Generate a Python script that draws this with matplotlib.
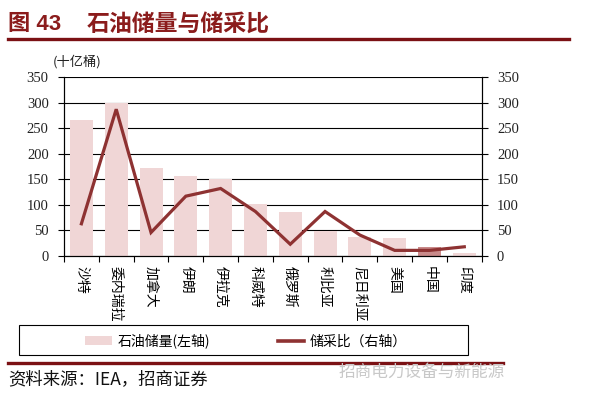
"""Oil reserves and reserve/production ratio by country (Figure 43)."""

import matplotlib.pyplot as plt
from matplotlib.lines import Line2D
from matplotlib.patches import Patch, Rectangle

CJK = ['Noto Sans CJK SC', 'DejaVu Sans']
SERIF = ['Liberation Serif', 'DejaVu Serif']

countries = ['沙特', '委内瑞拉', '加拿大', '伊朗', '伊拉克', '科威特',
             '俄罗斯', '利比亚', '尼日利亚', '美国', '中国', '印度']
reserves = [266, 300, 173, 157, 151, 102, 87, 48, 37, 35, 18, 5]   # 十亿桶
rp_ratio = [63, 287, 46, 117, 132, 87, 23, 87, 41, 11, 11, 18]     # 年
y_ticks = [0, 50, 100, 150, 200, 250, 300, 350]

bar_color = '#F0D6D6'
line_color = '#8E3232'
title_color = '#8B1C1C'
rule_color = '#7B1114'

plt.rcParams['font.family'] = CJK

fig = plt.figure(figsize=(5.91, 3.98), dpi=100)
W, H = 591, 398


def fx(px):
    return px / W


def fy(py):
    return 1 - py / H


ax = fig.add_axes([fx(64), fy(256), fx(481.7) - fx(64), fy(77) - fy(256)])
ax2 = ax.twinx()

x = list(range(len(countries)))
bars = ax.bar(x, reserves, width=0.66, color=bar_color, zorder=2)
bars[10].set_facecolor('#C98A8A')
ax2.plot(x, rp_ratio, color=line_color, lw=2.3, solid_joinstyle='miter')

for a in (ax, ax2):
    a.set_ylim(0, 350)
    a.set_yticks(y_ticks)
    for s in a.spines.values():
        s.set_color('black')
        s.set_linewidth(0.8)
    a.spines['top'].set_visible(False)

ax.set_axisbelow(True)
ax.grid(axis='y', color='black', lw=0.8)
ax.set_xlim(-0.5, len(countries) - 0.5)
ax.set_xticks(x)
ax.set_xticklabels(countries, rotation=270, fontsize=10, family=CJK)
ax.set_xticks([i - 0.5 for i in range(len(countries) + 1)], minor=True)
ax.tick_params(axis='x', which='major', length=0, pad=7)
ax.tick_params(axis='x', which='minor', length=4, width=0.8, direction='out')
ax.tick_params(axis='y', length=4, width=0.8, pad=7)
ax2.tick_params(axis='y', length=4, width=0.8, pad=7)

for lab in ax.get_yticklabels() + ax2.get_yticklabels():
    lab.set_family(SERIF)
    lab.set_fontsize(10.5)
    lab.set_color('#222222')

fig.text(fx(53), fy(62), '(十亿桶)', fontsize=9.5, va='center', ha='left',
         color='#222222')

# title and rules
fig.text(fx(8), fy(24), '图 43', fontsize=16, fontweight='bold',
         color=title_color, va='center', ha='left',
         family=['Liberation Sans', 'Noto Sans CJK SC'])
fig.text(fx(87), fy(24), '石油储量与储采比', fontsize=16.5, fontweight='bold',
         color=title_color, va='center', ha='left')
fig.add_artist(Line2D([fx(8), fx(569)], [fy(39), fy(39)], color=rule_color,
                      lw=2.4, transform=fig.transFigure))

# legend box
fig.add_artist(Rectangle((fx(19), fy(355)), fx(468) - fx(19), fy(325) - fy(355),
                         transform=fig.transFigure, fill=False,
                         edgecolor='black', lw=0.8))
handles = [Patch(facecolor=bar_color, edgecolor='none'),
           Line2D([0], [0], color=line_color, lw=2.6)]
fig.legend(handles, ['石油储量(左轴)', '储采比（右轴）'], ncol=2,
           loc='center', bbox_to_anchor=(fx(246), fy(341)), frameon=False,
           fontsize=10, handlelength=1.9, handleheight=0.7,
           handletextpad=0.4, columnspacing=4.9)

fig.add_artist(Line2D([fx(8), fx(503)], [fy(363), fy(363)], color=rule_color,
                      lw=2.4, transform=fig.transFigure))
fig.text(fx(8), fy(379), '资料来源：IEA，招商证券', fontsize=12.5,
         va='center', ha='left', color='#111111')
fig.text(fx(505), fy(372), '招商电力设备与新能源', fontsize=12,
         va='center', ha='right', color='#C8C8C8')

fig.savefig('out.png', dpi=100)
